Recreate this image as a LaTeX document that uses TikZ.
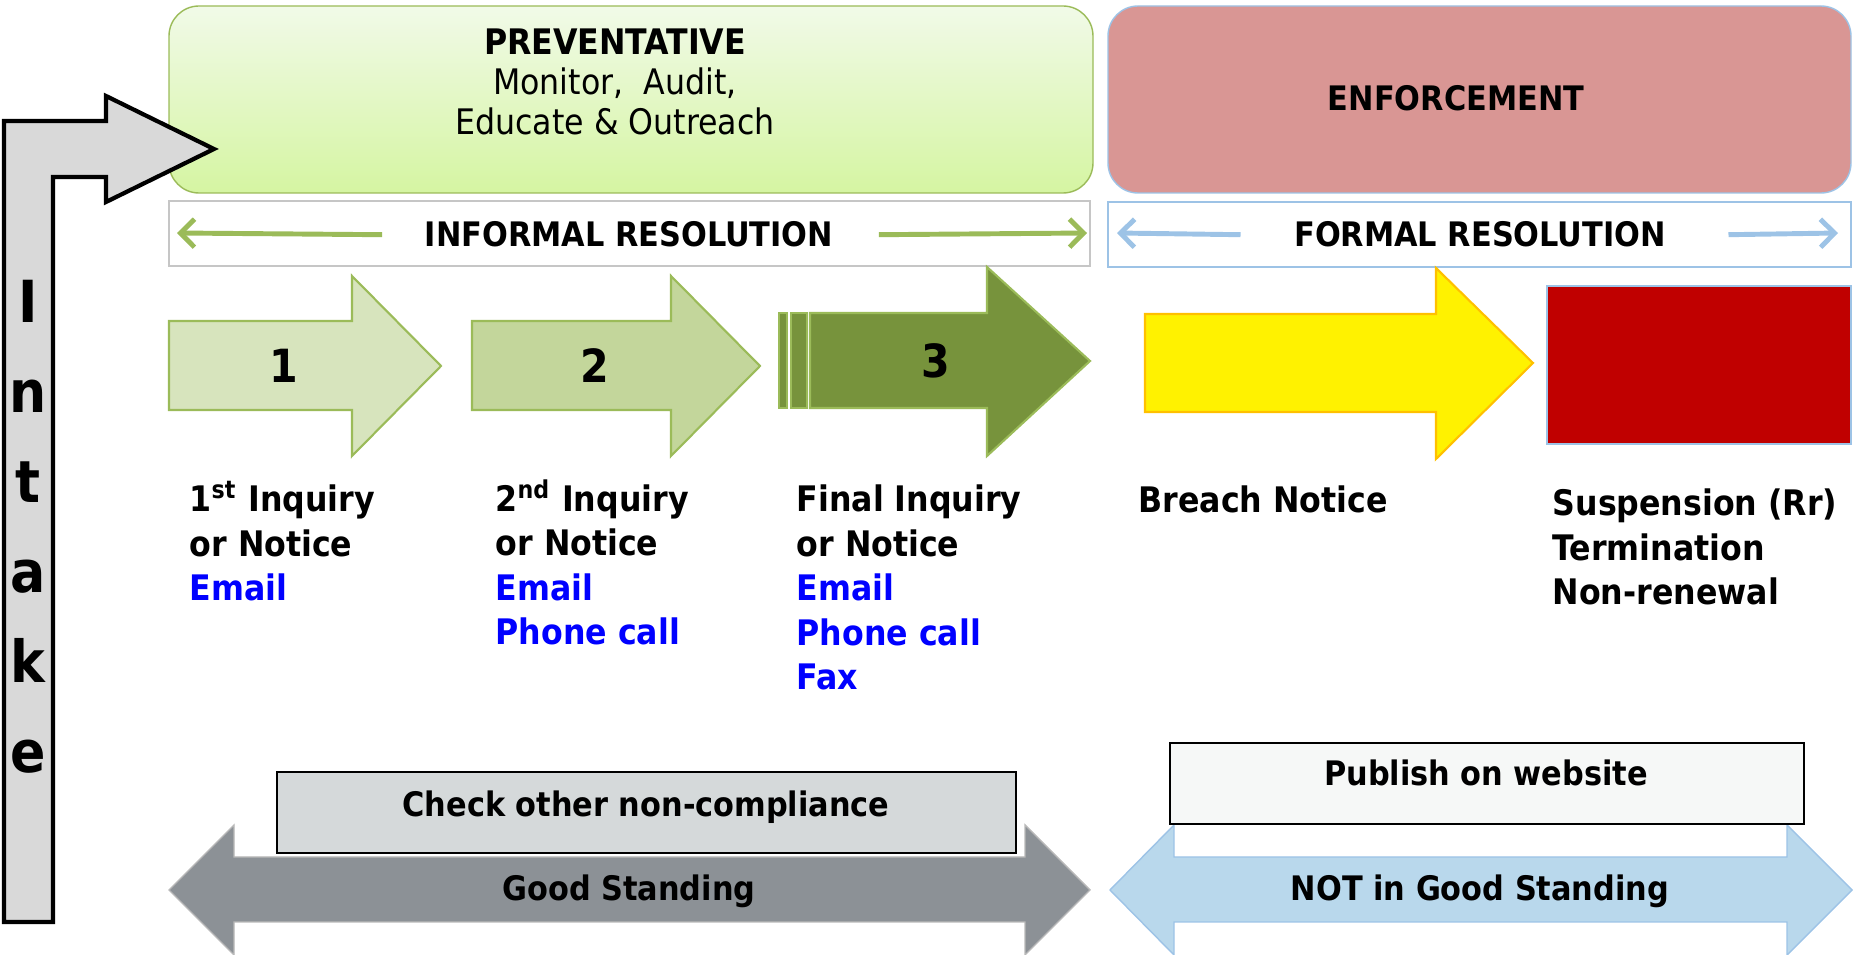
\documentclass[tikz,border=0pt]{standalone}
\usepackage{fontspec}
\setmainfont{DejaVu Sans Condensed}
\usetikzlibrary{arrows.meta, positioning}

\definecolor{prevtop}{HTML}{F1FAE8}
\definecolor{prevbot}{HTML}{D5F5A2}
\definecolor{olive}{HTML}{9BBB59}
\definecolor{enfred}{HTML}{D99694}
\definecolor{skyline}{HTML}{9DC3E6}
\definecolor{stepa}{HTML}{D7E4BD}
\definecolor{stepb}{HTML}{C3D69B}
\definecolor{stepc}{HTML}{77933C}
\definecolor{amber}{HTML}{FFC000}
\definecolor{darkred}{HTML}{C00000}
\definecolor{slate}{HTML}{8C9196}
\definecolor{paleblue}{HTML}{B9D8EC}
\definecolor{boxgray}{HTML}{D5D9DA}
\definecolor{offwhite}{HTML}{F6F8F7}
\definecolor{intakegray}{HTML}{D9D9D9}

% multi-line nodes sit on the baseline of their last line
\tikzstyle{steptext} = [font=\bfseries\fontsize{10}{12.7}\selectfont, align=left, anchor=base west, inner sep=0pt]
\tikzstyle{banner} = [font=\bfseries\fontsize{9.6}{12}\selectfont, anchor=base, inner sep=0pt]
\tikzstyle{bignum} = [font=\bfseries\fontsize{13}{13}\selectfont, anchor=base, inner sep=0pt]
\tikzstyle{resarrow} = [line width=1.4pt, -{Straight Barb[length=1.4mm, width=2.8mm]}]
\tikzstyle{stage} = [draw=olive, line width=0.6pt]
\tikzstyle{note} = [draw=black, line width=0.6pt]

\begin{document}
\begin{tikzpicture}[x=0.01cm, y=-0.01cm]
  \useasboundingbox (0,0) rectangle (1853,955);

  % headers
  \draw[olive, top color=prevtop, bottom color=prevbot, rounded corners=3mm] (169,6) rectangle (1093,193);
  \draw[skyline, fill=enfred, rounded corners=3mm] (1108,6) rectangle (1851,193);
  \node[align=center, anchor=base, inner sep=0pt, font=\fontsize{10}{11.5}\selectfont] (prev) at (615,135)
    {\textbf{PREVENTATIVE}\\Monitor,\ \ Audit,\\Educate \& Outreach};
  \node[banner] (enf) at (1456,111) {ENFORCEMENT};

  % intake arrow, on top of the green header
  \draw[fill=intakegray, line width=1.2pt] (4,922) -- (4,121) -- (106,121) -- (106,96)
    -- (214,149) -- (106,202) -- (106,177) -- (53,177) -- (53,922) -- cycle;
  \foreach \ch [count=\i] in {I,n,t,a,k,e}
    \node[font=\bfseries\fontsize{16.5}{16.5}\selectfont, anchor=base, inner sep=0pt] (intake\i) at (28,{323+90*(\i-1)}) {\ch};

  % resolution bars
  \draw[gray!45, line width=0.6pt] (169,201) rectangle (1090,266);
  \draw[skyline, line width=0.6pt] (1108,202) rectangle (1851,267);
  \node[banner] (informal) at (629,247) {INFORMAL RESOLUTION};
  \node[banner] (formal) at (1480,247) {FORMAL RESOLUTION};
  \coordinate (inf-l) at (177,233);
  \coordinate (inf-r) at (1087,233);
  \coordinate (for-l) at (1117,233);
  \coordinate (for-r) at (1838,233);
  \draw[resarrow, olive] ([xshift=-4.2mm]informal.west) -- (inf-l);
  \draw[resarrow, olive] ([xshift=4.5mm]informal.east) -- (inf-r);
  \draw[resarrow, skyline] ([xshift=-5.3mm]formal.west) -- (for-l);
  \draw[resarrow, skyline] ([xshift=6.2mm]formal.east) -- (for-r);

  % steps
  \draw[stage, fill=stepa] (169,321) -- (352,321) -- (352,276) -- (441,366) -- (352,456) -- (352,410) -- (169,410) -- cycle;
  \draw[stage, fill=stepb] (472,321) -- (671,321) -- (671,276) -- (760,366) -- (671,456) -- (671,410) -- (472,410) -- cycle;
  \draw[stage, fill=stepc] (779,313) rectangle (787,408);
  \draw[stage, fill=stepc] (791,313) rectangle (807,408);
  \draw[stage, fill=stepc] (810,313) -- (987,313) -- (987,267) -- (1090,361) -- (987,456) -- (987,408) -- (810,408) -- cycle;
  \draw[amber, fill=yellow, line width=0.6pt] (1145,314) -- (1436,314) -- (1436,268) -- (1533,363) -- (1436,459) -- (1436,412) -- (1145,412) -- cycle;
  \draw[skyline, fill=darkred, line width=0.8pt] (1547,286) rectangle (1851,444);
  \node[bignum] (num1) at (284,383) {1};
  \node[bignum] (num2) at (595,383) {2};
  \node[bignum] (num3) at (936,378) {3};

  % step labels
  \node[steptext] (first) at (189,601) {1\textsuperscript{st} Inquiry\\or Notice\\\textcolor{blue}{Email}};
  \node[steptext] (second) at (495,645) {2\textsuperscript{nd} Inquiry\\or Notice\\\textcolor{blue}{Email}\\\textcolor{blue}{Phone call}};
  \node[steptext] (final) at (796,690) {Final Inquiry\\or Notice\\\textcolor{blue}{Email}\\\textcolor{blue}{Phone call}\\\textcolor{blue}{Fax}};
  \node[steptext] (breach) at (1138,513) {Breach Notice};
  \node[steptext] (suspend) at (1552,605) {Suspension (Rr)\\Termination\\Non-renewal};

  % standing
  \draw[gray!55, fill=slate] (169,890) -- (234,825) -- (234,857) -- (1025,857) -- (1025,825) -- (1090,890)
    -- (1025,955) -- (1025,922) -- (234,922) -- (234,955) -- cycle;
  \draw[skyline, fill=paleblue] (1110,890) -- (1174,825) -- (1174,857) -- (1787,857) -- (1787,825) -- (1852,890)
    -- (1787,955) -- (1787,922) -- (1174,922) -- (1174,955) -- cycle;
  \draw[note, fill=boxgray] (277,772) rectangle (1016,853);
  \draw[note, fill=offwhite] (1170,743) rectangle (1804,824);
  \node[banner] (check) at (646,817) {Check other non-compliance};
  \node[banner] (good) at (629,901) {Good Standing};
  \node[banner] (publish) at (1486,786) {Publish on website};
  \node[banner] (notgood) at (1480,901) {NOT in Good Standing};
\end{tikzpicture}
\end{document}
